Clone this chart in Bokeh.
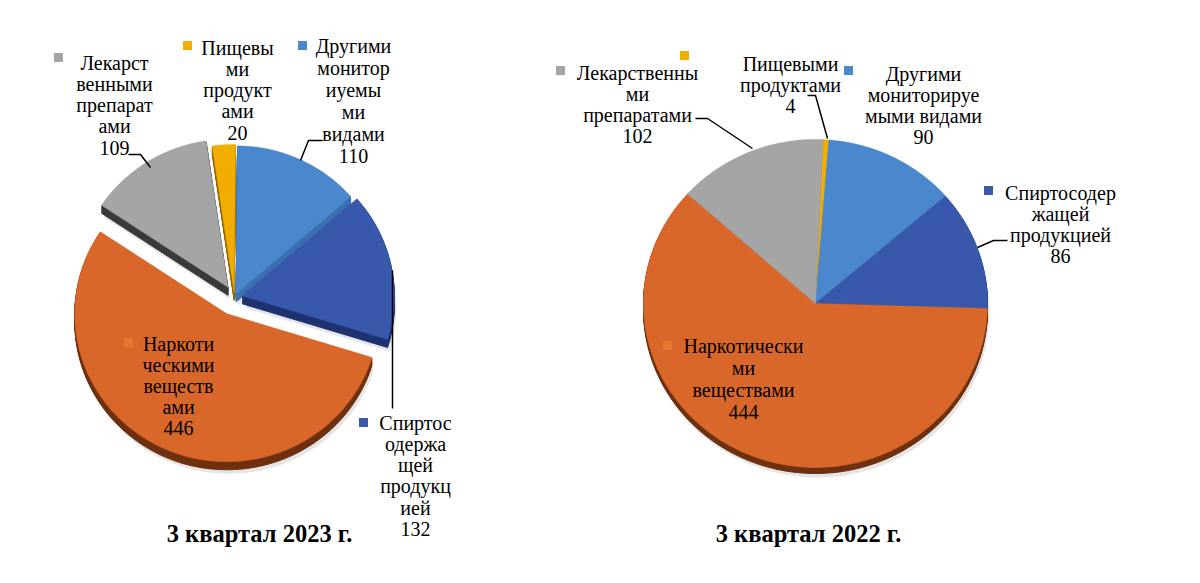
import numpy as np
from bokeh.plotting import figure
from bokeh.models import Range1d
from bokeh.embed import file_html
from bokeh.resources import INLINE
from bokeh.core.properties import value

W, H = 1200, 583

# ---- data (clockwise order of slices, starting at the top) ----
categories = ["Пищевыми продуктами", "Другими мониторируемыми видами",
              "Спиртосодержащей продукцией", "Наркотическими веществами",
              "Лекарственными препаратами"]
values_2023 = [20, 110, 132, 446, 109]
values_2022 = [4, 90, 86, 444, 102]
titles = ["3 квартал 2023 г.", "3 квартал 2022 г."]
labels_2023 = [["Пищевы", "ми", "продукт", "ами"],
               ["Другими", "монитор", "иуемы", "ми", "видами"],
               ["Спиртос", "одержа", "щей", "продукц", "ией"],
               ["Наркоти", "ческими", "веществ", "ами"],
               ["Лекарст", "венными", "препарат", "ами"]]
labels_2022 = [["Пищевыми", "продуктами"],
               ["Другими", "мониторируе", "мыми видами"],
               ["Спиртосодер", "жащей", "продукцией"],
               ["Наркотически", "ми", "веществами"],
               ["Лекарственны", "ми", "препаратами"]]

# ---- styles / layout ----
colors = ["#F2AE00", "#4A87CC", "#3858AC", "#D9672A", "#A5A5A5"]
side_colors = ["#8C6400", "#3A70B0", "#1E3270", "#6E300E", "#3A3A3A"]
marker_colors = ["#F2AE00", "#4A87CC", "#3858AC", "#E8762E", "#A5A5A5"]
FONT = value("Liberation Serif")

pies = [
    dict(values=values_2023, labels=labels_2023, title=titles[0],
         cx=234, cy=297, rx=152, ry=148, start=-8.3, depth=8,
         explode=[5, 4, 8, 18, 12],
         lab_pos=[(237, 47, 21.3), (353, 45, 22.0), (415, 422, 21.3), (178, 343, 21.0), (114, 62, 21.3)],
         mk_pos=[(187, 45), (302, 45), (363, 422), (128, 342), (58, 57)],
         leaders=[None, [(322, 140), (308, 140), (300, 160)], [(392, 270), (392, 408)], None,
                  [(128, 154), (140, 154), (150, 167)]],
         title_pos=(259, 533)),
    dict(values=values_2022, labels=labels_2022, title=titles[1],
         cx=815, cy=303, rx=172, ry=164, start=2.5, depth=6,
         explode=[0, 0, 0, 0, 0],
         lab_pos=[(790, 63, 21.0), (923, 73, 21.3), (1060, 192, 21.0), (743, 345, 22.3), (637, 72, 21.0)],
         mk_pos=[(684, 55), (848, 70), (988, 190), (667, 345), (560, 70)],
         leaders=[[(807, 95), (815, 95), (827, 138)], None, [(1007, 240), (993, 240), (977, 247)], None,
                  [(695, 118), (707, 118), (752, 148)]],
         title_pos=(808, 533)),
]

p = figure(width=W, height=H, x_range=Range1d(0, W), y_range=Range1d(H, 0),
           output_backend="svg", toolbar_location=None, min_border=0)
p.axis.visible = False
p.grid.visible = False
p.outline_line_color = None
p.background_fill_color = "white"
p.border_fill_color = "white"


def wedge(cx, cy, rx, ry, a0, a1):
    n = max(int(abs(a1 - a0) / 1.5) + 2, 3)
    th = np.radians(np.linspace(a0, a1, n))
    xs = np.concatenate([[cx], cx + rx * np.sin(th)])
    ys = np.concatenate([[cy], cy - ry * np.cos(th)])
    return xs, ys


for pie in pies:
    vals = np.array(pie["values"], dtype=float)
    angles = vals / vals.sum() * 360.0
    ends = pie["start"] + np.cumsum(angles)
    starts = ends - angles
    shapes = []
    for i in range(len(vals)):
        mid = np.radians((starts[i] + ends[i]) / 2)
        e = pie["explode"][i]
        cx = pie["cx"] + e * np.sin(mid)
        cy = pie["cy"] - e * np.cos(mid)
        shapes.append(wedge(cx, cy, pie["rx"], pie["ry"], starts[i], ends[i]))
    sx, sy, sc = [], [], []
    for i, (xs, ys) in enumerate(shapes):
        for d in range(1, pie["depth"] + 1):
            sx.append(xs)
            sy.append(ys + d)
            sc.append(side_colors[i])
    # soft shadow
    p.patches(xs=[list(s[0] + 2) for s in shapes],
              ys=[list(s[1] + pie["depth"] + 4) for s in shapes],
              fill_color="#000000", fill_alpha=0.10, line_color=None)
    p.patches(xs=[list(x) for x in sx], ys=[list(y) for y in sy],
              fill_color=sc, line_color=sc, line_width=1)
    p.patches(xs=[list(s[0]) for s in shapes], ys=[list(s[1]) for s in shapes],
              fill_color=colors, line_color=colors, line_width=0.5)

    # leader lines
    for ld in pie["leaders"]:
        if ld:
            p.line([q[0] for q in ld], [q[1] for q in ld], line_color="black", line_width=1.5)

    # labels
    tx, ty, tt = [], [], []
    for i, lines in enumerate(pie["labels"]):
        x0, y0, sp = pie["lab_pos"][i]
        all_lines = lines + [str(pie["values"][i])]
        for k, ln in enumerate(all_lines):
            tx.append(x0)
            ty.append(y0 + k * sp)
            tt.append(ln)
    p.text(x=tx, y=ty, text=tt, text_font=FONT, text_font_size="20px",
           text_align="center", text_baseline="middle", text_color="black")
    p.scatter(x=[m[0] for m in pie["mk_pos"]], y=[m[1] for m in pie["mk_pos"]],
              marker="square", size=9, fill_color=marker_colors, line_color=None)

    p.text(x=[pie["title_pos"][0]], y=[pie["title_pos"][1]], text=[pie["title"]],
           text_font=FONT, text_font_size="24.5px", text_font_style="bold",
           text_align="center", text_baseline="middle", text_color="black")

open("out.html", "w").write(file_html(p, INLINE))
